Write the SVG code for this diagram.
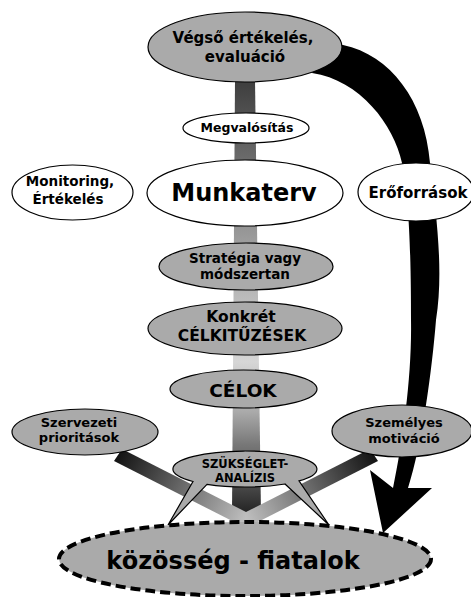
<svg xmlns="http://www.w3.org/2000/svg" width="471" height="597" viewBox="0 0 471 597">
  <defs>
    <style>
      text { font-family: "DejaVu Sans", Verdana, sans-serif; font-weight: bold; fill: #000; text-anchor: middle; }
      .gray { fill: #aaaaaa; stroke: #000; stroke-width: 1.2; }
      .white { fill: #ffffff; stroke: #000; stroke-width: 1.2; }
      .base { fill: #aaaaaa; stroke: #000; stroke-width: 4; stroke-dasharray: 10 5; }
    </style>
    <!-- central trunk: dark at the top, light around the goals, dark again at the base -->
    <linearGradient id="trunkGrad" gradientUnits="userSpaceOnUse" x1="0" y1="80" x2="0" y2="515">
      <stop offset="0.011" stop-color="#404040"/>
      <stop offset="0.161" stop-color="#666666"/>
      <stop offset="0.356" stop-color="#999999"/>
      <stop offset="0.499" stop-color="#bbbbbb"/>
      <stop offset="0.648" stop-color="#d6d6d6"/>
      <stop offset="0.763" stop-color="#aaaaaa"/>
      <stop offset="0.839" stop-color="#777777"/>
      <stop offset="0.943" stop-color="#444444"/>
      <stop offset="0.993" stop-color="#252525"/>
    </linearGradient>
    <linearGradient id="barLeft" gradientUnits="userSpaceOnUse" x1="120" y1="455" x2="246" y2="520">
      <stop offset="0" stop-color="#151515"/>
      <stop offset="1" stop-color="#c0c0c0"/>
    </linearGradient>
    <linearGradient id="barRight" gradientUnits="userSpaceOnUse" x1="372" y1="455" x2="246" y2="520">
      <stop offset="0" stop-color="#151515"/>
      <stop offset="1" stop-color="#c0c0c0"/>
    </linearGradient>
  </defs>

  <rect width="471" height="597" fill="#ffffff"/>

  <g id="connectors">
    <polygon id="trunk" points="235,80 255,80 261,515 232,515" fill="url(#trunkGrad)"/>
    <polygon id="bar-left" points="122,449 246,512 246,528 114,461" fill="url(#barLeft)"/>
    <polygon id="bar-right" points="370,449 246,512 246,528 378,461" fill="url(#barRight)"/>
    <path id="resource-arrow" fill="#000"
      d="M 320,42 L 343,45 C 390,55 425,100 430,163 C 436,213 444,270 436,320 C 432,370 422,445 408,488
         L 432,488 L 383,533 L 370,470 L 393,488
         C 403,440 412,375 411,320 C 411,270 410,200 402,163 C 394,125 360,80 312,73 Z"/>
  </g>

  <g id="node-evaluation">
    <ellipse class="gray" cx="245" cy="47" rx="97" ry="35"/>
    <text x="243" y="43" font-size="15">Végső értékelés,</text>
    <text x="245" y="62" font-size="15">evaluáció</text>
  </g>

  <g id="node-implementation">
    <ellipse class="white" cx="246" cy="128" rx="63" ry="15"/>
    <text x="247" y="132" font-size="12.5">Megvalósítás</text>
  </g>

  <g id="node-monitoring">
    <ellipse class="white" cx="72.5" cy="192.5" rx="60.5" ry="27.5"/>
    <text x="70" y="186" font-size="13.5">Monitoring,</text>
    <text x="68" y="204" font-size="13.5">Értékelés</text>
  </g>

  <g id="node-workplan">
    <ellipse class="white" cx="245" cy="193" rx="98" ry="33"/>
    <text x="244" y="201" font-size="24">Munkaterv</text>
  </g>

  <g id="node-resources">
    <ellipse class="white" cx="416" cy="192" rx="58" ry="29"/>
    <text x="418" y="198" font-size="15">Erőforrások</text>
  </g>

  <g id="node-strategy">
    <ellipse class="gray" cx="246" cy="266.5" rx="87" ry="23.5"/>
    <text x="245" y="263" font-size="13.5">Stratégia vagy</text>
    <text x="245" y="279" font-size="13.5">módszertan</text>
  </g>

  <g id="node-objectives">
    <ellipse class="gray" cx="245" cy="328.5" rx="97" ry="26.5"/>
    <text x="241" y="322" font-size="15.5">Konkrét</text>
    <text x="242" y="341" font-size="15.5">CÉLKITŰZÉSEK</text>
  </g>

  <g id="node-goals">
    <ellipse class="gray" cx="243.5" cy="389" rx="73.5" ry="19"/>
    <text x="243" y="397" font-size="18.5">CÉLOK</text>
  </g>

  <g id="node-org-priorities">
    <ellipse class="gray" cx="85" cy="432" rx="73" ry="23"/>
    <text x="79" y="427" font-size="13">Szervezeti</text>
    <text x="79" y="442" font-size="13">prioritások</text>
  </g>

  <g id="node-motivation">
    <ellipse class="gray" cx="402" cy="431" rx="70" ry="26"/>
    <text x="404" y="427" font-size="13">Személyes</text>
    <text x="404" y="443" font-size="13">motiváció</text>
  </g>

  <g id="node-needs-analysis">
    <path class="gray" d="M 193,481.5 L 168,525 L 207,484.3 A 72 18 0 0 0 285,484 L 329,525 L 299,480.9 A 72 18 0 1 0 193,481.5 Z"/>
    <text x="245" y="468" font-size="11.5">SZÜKSÉGLET-</text>
    <text x="245" y="482" font-size="11.5">ANALÍZIS</text>
  </g>

  <g id="node-community">
    <ellipse class="base" cx="245" cy="559" rx="186" ry="37"/>
    <text x="233" y="569" font-size="24">közösség - fiatalok</text>
  </g>
</svg>
